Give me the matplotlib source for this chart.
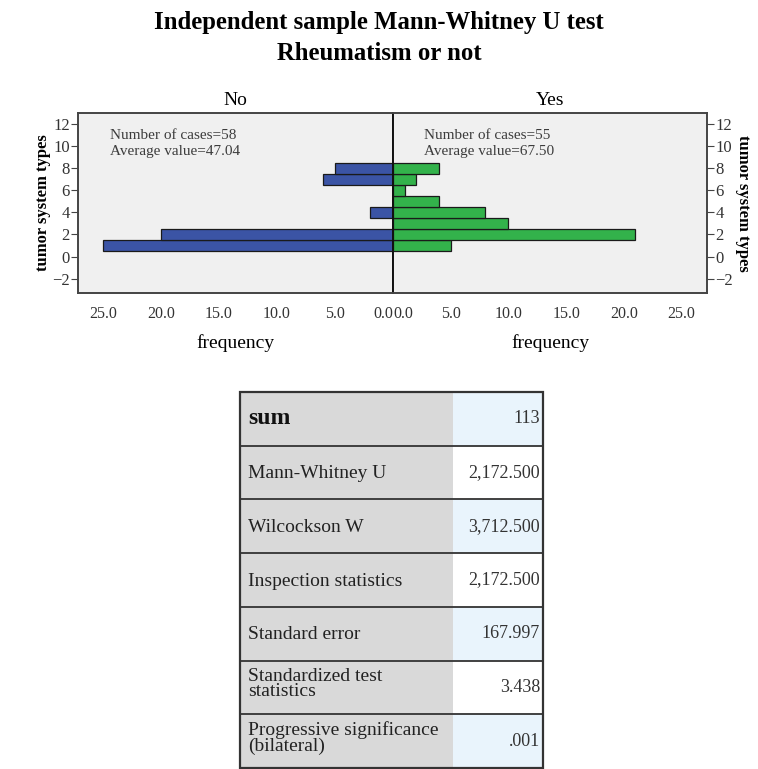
import matplotlib
matplotlib.use('Agg')
import matplotlib.pyplot as plt
from matplotlib.patches import Rectangle

plt.rcParams['font.family'] = ['Liberation Serif', 'DejaVu Serif']

# histogram data (tumor system type -> frequency)
types_no = [1, 2, 4, 7, 8]
freq_no = [25, 20, 2, 6, 5]
types_yes = [1, 2, 3, 4, 5, 6, 7, 8]
freq_yes = [5, 21, 10, 8, 4, 1, 2, 4]

x_ticks = [0, 5, 10, 15, 20, 25]
y_ticks = [-2, 0, 2, 4, 6, 8, 10, 12]

info_no = ['Number of cases=58', 'Average value=47.04']
info_yes = ['Number of cases=55', 'Average value=67.50']

# summary table
row_labels = ['sum', 'Mann-Whitney U', 'Wilcockson W', 'Inspection statistics',
              'Standard error', 'Standardized test\nstatistics',
              'Progressive significance\n(bilateral)']
row_values = ['113', '2,172.500', '3,712.500', '2,172.500', '167.997', '3.438', '.001']

W, H = 758, 769
fig = plt.figure(figsize=(W / 100, H / 100), dpi=100)

fig.text(0.5, 1 - 22 / H, 'Independent sample Mann-Whitney U test', ha='center', va='center',
         fontsize=17.8, fontweight='bold')
fig.text(0.5, 1 - 53 / H, 'Rheumatism or not', ha='center', va='center',
         fontsize=17.8, fontweight='bold')

ax_bot = 1 - 293 / H
ax_h = 180 / H
ax_l = fig.add_axes([78 / W, ax_bot, 315 / W, ax_h])
ax_r = fig.add_axes([393 / W, ax_bot, 314 / W, ax_h], sharey=ax_l)

blue = '#3b54a5'
green = '#33b24b'
frame = '#444444'

ax_l.barh(types_no, freq_no, height=1.0, color=blue, edgecolor='#1a1a1a', linewidth=0.9)
ax_r.barh(types_yes, freq_yes, height=1.0, color=green, edgecolor='#1a1a1a', linewidth=0.9)

ax_l.set_xlim(27.15, 0)
ax_r.set_xlim(0, 27.2)
ax_l.set_ylim(-3.3, 13.0)

for ax in (ax_l, ax_r):
    ax.set_facecolor('#f0f0f0')
    ax.set_xticks(x_ticks)
    ax.set_xticklabels(['%.1f' % v for v in x_ticks])
    ax.tick_params(axis='x', length=0, pad=9, labelsize=11.5, labelcolor='#333333')
    ax.tick_params(axis='y', length=5, color=frame, labelsize=12, labelcolor='#333333', pad=1)
    ax.set_yticks(y_ticks)
    for s in ax.spines.values():
        s.set_color(frame)
        s.set_linewidth(1.4)

ax_l.spines['right'].set_color('#111111')
ax_r.spines['left'].set_color('#111111')
ax_l.yaxis.set_ticks_position('left')
ax_r.yaxis.tick_right()
ax_r.tick_params(axis='y', labelright=True, labelleft=False)
ax_l.get_xticklabels()[0].set_ha('right')
ax_r.get_xticklabels()[0].set_ha('left')

ax_l.set_ylabel('tumor system types', fontsize=12, fontweight='bold', labelpad=1)
ax_r.set_ylabel('tumor system types', fontsize=12, fontweight='bold', rotation=270, labelpad=13)
ax_r.yaxis.set_label_position('right')

ax_l.set_title('No', fontsize=14, pad=6)
ax_r.set_title('Yes', fontsize=14, pad=6)
ax_l.set_xlabel('frequency', fontsize=14, labelpad=9)
ax_r.set_xlabel('frequency', fontsize=14, labelpad=9)

ax_l.text(0.1, 0.91, '\n'.join(info_no), transform=ax_l.transAxes, ha='left', va='top',
          fontsize=11, color='#3c3c3c', linespacing=1.25)
ax_r.text(0.1, 0.91, '\n'.join(info_yes), transform=ax_r.transAxes, ha='left', va='top',
          fontsize=11, color='#3c3c3c', linespacing=1.25)

# table
tx0, tx1, ty0, ty1 = 240, 543, 392, 768
split = 453
tab = fig.add_axes([tx0 / W, 1 - ty1 / H, (tx1 - tx0) / W, (ty1 - ty0) / H])
tab.set_xlim(tx0, tx1)
tab.set_ylim(ty1, ty0)
tab.axis('off')
n = len(row_labels)
rh = (ty1 - ty0) / n
for i in range(n):
    y = ty0 + i * rh
    tab.add_patch(Rectangle((tx0, y), split - tx0, rh, facecolor='#d9d9d9', edgecolor='none'))
    vc = '#e9f4fc' if i % 2 == 0 else '#ffffff'
    tab.add_patch(Rectangle((split, y), tx1 - split, rh, facecolor=vc, edgecolor='none'))
    if i == 0:
        tab.text(tx0 + 8, y + rh / 2, row_labels[i], ha='left', va='center',
                 fontsize=17, fontweight='bold', color='#111111')
    elif '\n' in row_labels[i]:
        tab.text(tx0 + 8, y + rh / 2 - 3, row_labels[i], ha='left', va='center',
                 fontsize=14, color='#222222', linespacing=0.85)
    else:
        tab.text(tx0 + 8, y + rh / 2 + 1, row_labels[i], ha='left', va='center',
                 fontsize=14, color='#222222')
    tab.text(tx1 - 3, y + rh / 2, row_values[i], ha='right', va='center',
             fontsize=13, color='#333333')
    if i > 0:
        tab.plot([tx0, tx1], [y, y], color='#333333', lw=1.3)
tab.add_patch(Rectangle((tx0, ty0), tx1 - tx0, ty1 - ty0, facecolor='none',
                        edgecolor='#333333', lw=1.6, clip_on=False))

fig.savefig('out.png', dpi=100)
